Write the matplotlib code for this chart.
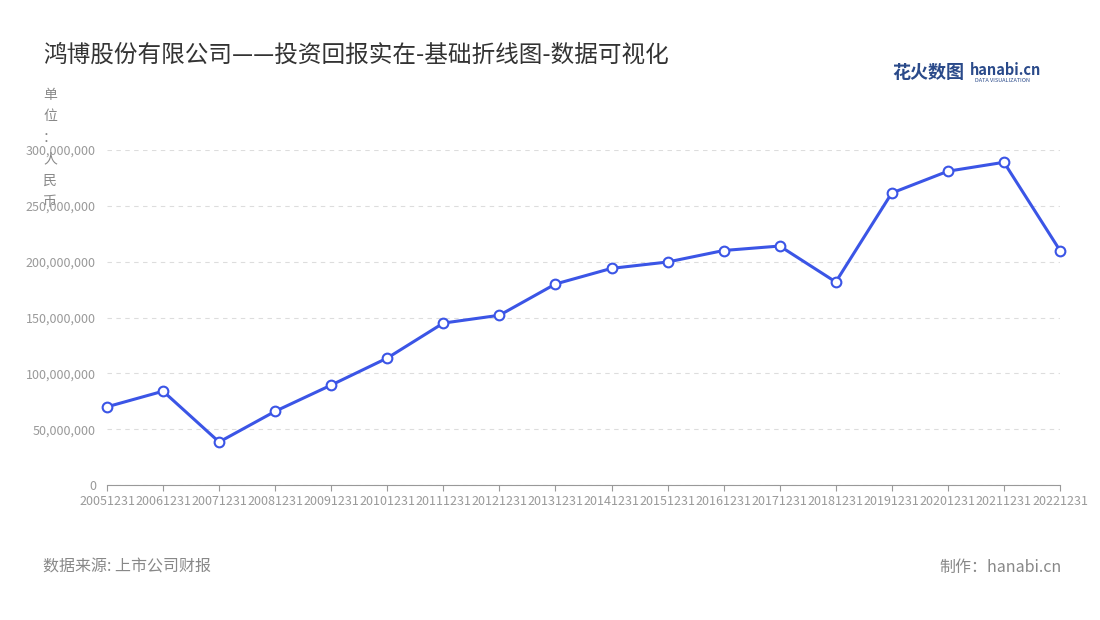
import matplotlib
matplotlib.use('Agg')
import matplotlib.pyplot as plt

plt.rcParams['font.family'] = ['Noto Sans CJK SC', 'DejaVu Sans']

years = ['20051231','20061231','20071231','20081231','20091231','20101231','20111231','20121231',
         '20131231','20141231','20151231','20161231','20171231','20181231','20191231','20201231',
         '20211231','20221231']
values = [70e6, 84e6, 38.5e6, 66e6, 89.5e6, 113.7e6, 145e6, 152e6, 180e6, 194e6, 199.7e6,
          210e6, 214e6, 181.8e6, 261.5e6, 281e6, 289e6, 210e6]
yticks = [0, 50e6, 100e6, 150e6, 200e6, 250e6, 300e6]

W, H = 1100, 620
fig = plt.figure(figsize=(W/100, H/100), dpi=100)
ax = fig.add_axes([107/W, 1-485/H, (1060-107)/W, (485-150)/H])
x = list(range(len(years)))
ax.plot(x, values, color='#3b55e6', lw=2.2, marker='o', ms=7, mfc='white', mec='#3b55e6', mew=1.5, zorder=3, clip_on=False)
ax.set_xlim(0, len(years)-1)
ax.set_ylim(0, 300e6)
ax.set_yticks(yticks)
ax.set_yticklabels([f'{int(v):,}' for v in yticks], color='#999999', fontsize=9)
ax.set_xticks(x)
ax.set_xticklabels(years, color='#999999', fontsize=9)
ax.grid(axis='y', ls=(0, (4, 4)), color='#dddddd', lw=0.8)
for s in ['top', 'right', 'left']:
    ax.spines[s].set_visible(False)
ax.spines['bottom'].set_color('#999999')
ax.tick_params(axis='y', length=0, pad=8)
ax.tick_params(axis='x', length=4, color='#999999', pad=3)

fig.text(43/W, 1-55/H, '鸿博股份有限公司——投资回报实在-基础折线图-数据可视化', fontsize=17, color='#333333', va='center')
fig.text(50/W, 1-88/H, '单\n位\n：\n人\n民\n币', fontsize=10, color='#888888', va='top', ha='center', linespacing=1.68)
fig.text(43/W, 1-567/H, '数据来源: 上市公司财报', fontsize=11.5, color='#888888', va='center')
fig.text(1062/W, 1-567/H, '制作：hanabi.cn', fontsize=11.5, color='#888888', va='center', ha='right')
fig.text(892/W, 1-73/H, '花火数图', fontsize=13, color='#2a4a8a', va='center', fontweight='bold')
fig.text(970/W, 1-70/H, 'hanabi.cn', fontsize=10.5, color='#2a4a8a', va='center', fontweight='bold')
fig.text(975/W, 1-81/H, 'DATA VISUALIZATION', fontsize=4, color='#2a4a8a', va='center')
fig.savefig('out.png', dpi=100)
